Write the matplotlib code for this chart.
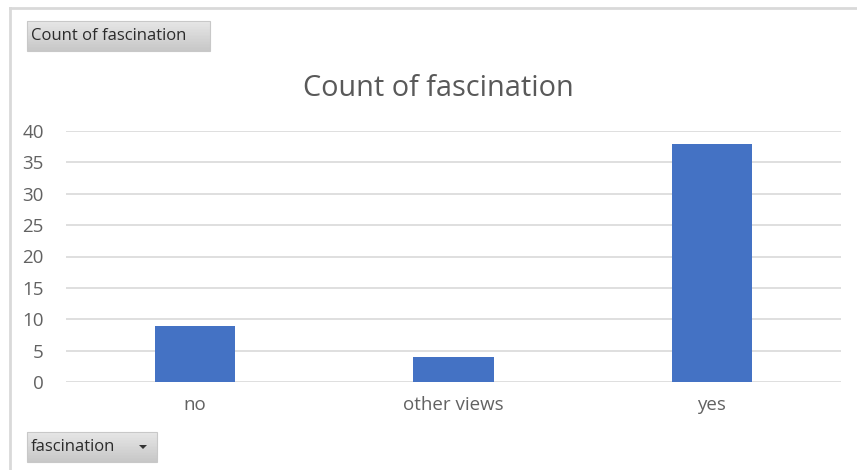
import matplotlib.pyplot as plt
import numpy as np
from matplotlib.patches import Rectangle
from matplotlib.lines import Line2D

categories = ["no", "other views", "yes"]
counts = [9, 4, 38]
y_ticks = [0, 5, 10, 15, 20, 25, 30, 35, 40]

plt.rcParams['font.family'] = ['Open Sans', 'DejaVu Sans']

W, H = 857, 470
fig = plt.figure(figsize=(W / 100, H / 100), dpi=100)
fig.patch.set_facecolor('white')

# plot area in pixel coordinates
left, right = 66, 841
top, bottom = 131, 382
ax = fig.add_axes([left / W, 1 - bottom / H, (right - left) / W, (bottom - top) / H])

x = np.arange(len(categories))
ax.bar(x, counts, width=0.31, color='#4472C4', zorder=3)
ax.set_xlim(-0.5, len(categories) - 0.5)
ax.set_ylim(0, 40)
ax.set_yticks(y_ticks)
ax.set_xticks(x)
ax.set_xticklabels(categories)
ax.yaxis.grid(True, color='#d9d9d9', linewidth=1.2, zorder=0)
ax.set_axisbelow(True)
for s in ax.spines.values():
    s.set_visible(False)
ax.tick_params(axis='both', length=0, colors='#626262', labelsize=13.5)
ax.tick_params(axis='y', pad=16)
ax.tick_params(axis='x', pad=10)

# chart title
fig.text(438 / W, 1 - 88 / H, "Count of fascination", ha='center', va='center',
         fontsize=20.8, color='#595959')

# outer chart frame (top and left edges)
fig.add_artist(Line2D([10 / W, 1], [1 - 8 / H, 1 - 8 / H], color='#d9d9d9', lw=2,
                      transform=fig.transFigure))
fig.add_artist(Line2D([10 / W, 10 / W], [0, 1 - 8 / H], color='#d9d9d9', lw=2,
                      transform=fig.transFigure))


def field_button(x0, y0, w, h, label, arrow=False):
    n = 20
    for i in range(n):
        t = i / (n - 1)
        # light top, darker bottom gradient
        c = 0.90 - 0.12 * t
        fig.add_artist(Rectangle((x0 / W, 1 - (y0 + h * (i + 1) / n) / H), w / W, h / n / H,
                                 transform=fig.transFigure, facecolor=(c, c, c),
                                 edgecolor='none', zorder=5))
    fig.add_artist(Rectangle((x0 / W, 1 - (y0 + h) / H), w / W, h / H,
                             transform=fig.transFigure, facecolor='none',
                             edgecolor='#c8c8c8', lw=0.8, zorder=6))
    fig.text((x0 + 4) / W, 1 - (y0 + h / 2) / H, label, ha='left', va='center',
             fontsize=12, color='#2b2b2b', zorder=7, fontweight='medium')
    if arrow:
        ax_x = x0 + w - 14
        ay = y0 + h / 2
        fig.add_artist(plt.Polygon([[(ax_x - 4) / W, 1 - (ay - 2) / H],
                                    [(ax_x + 4) / W, 1 - (ay - 2) / H],
                                    [ax_x / W, 1 - (ay + 2) / H]],
                                   closed=True, transform=fig.transFigure,
                                   facecolor='#333333', edgecolor='none', zorder=7))


field_button(27, 21, 183, 30, "Count of fascination")
field_button(27, 432, 130, 30, "fascination", arrow=True)

fig.savefig("out.png", dpi=100, facecolor='white')
